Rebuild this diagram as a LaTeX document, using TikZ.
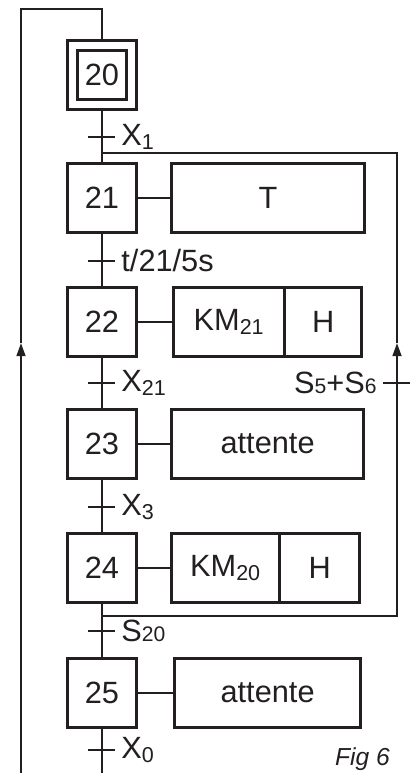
\documentclass[tikz,border=0pt]{standalone}
\usepackage{fontspec}
\setmainfont{Liberation Sans}
\usetikzlibrary{arrows.meta,positioning}
\definecolor{linecol}{RGB}{35,31,32}
\newcommand{\smdig}[1]{{\fontsize{12}{13}\selectfont #1}}

\begin{document}
\begin{tikzpicture}[x=0.02cm,y=-0.02cm,line width=1.3pt,color=linecol,
    >={Triangle[length=7.5pt,width=5pt]},
    stepbox/.style={draw,minimum width=1.38cm,minimum height=1.38cm,inner sep=0pt,
      font=\fontsize{17.5}{20}\selectfont},
    actbox/.style={draw,minimum height=1.38cm,inner sep=0pt,outer sep=0pt,
      font=\fontsize{17.5}{20}\selectfont},
    trlabel/.style={font=\fontsize{17.5}{20}\selectfont,inner sep=3pt}]
  \useasboundingbox (0,0) rectangle (410,773);

  % steps
  \node[stepbox] (s20) at (102,75) {};
  \node[stepbox,minimum width=0.98cm,minimum height=0.98cm] (s20i) at (s20) {20};
  \node[stepbox] (s21) at (102,198) {21};
  \node[stepbox] (s22) at (102,322) {22};
  \node[stepbox] (s23) at (102,444) {23};
  \node[stepbox] (s24) at (102,568) {24};
  \node[stepbox] (s25) at (102,693) {25};

  % actions
  \node[actbox,minimum width=3.86cm,right=0.68cm of s21] (a21) {T};
  \node[actbox,minimum width=2.22cm,right=0.72cm of s22] (a22) {KM\textsubscript{21}};
  \node[actbox,minimum width=1.54cm,right=0pt of a22] (h22) {H};
  \node[actbox,minimum width=3.84cm,right=0.68cm of s23] (a23) {attente};
  \node[actbox,minimum width=2.16cm,right=0.68cm of s24] (a24) {KM\textsubscript{20}};
  \node[actbox,minimum width=1.6cm,right=0pt of a24] (h24) {H};
  \node[actbox,minimum width=3.72cm,right=0.74cm of s25] (a25) {attente};
  \foreach \s in {21,...,25}
    \draw (s\s) -- (a\s);

  % links
  \draw (s20) -- (s21) -- (s22) -- (s23) -- (s24) -- (s25);
  \coordinate (sfoot) at (102,773);
  \draw (s25) -- (sfoot);

  % transitions
  \foreach \y/\lab in {137/X\textsubscript{1},261/{t/21/5s},383/X\textsubscript{21},
      507/X\textsubscript{3},631/S\smdig{20},750/X\textsubscript{0}}
    \draw (88,\y) -- (115,\y) node[trlabel,right] {\lab};

  % loop back to 21
  \coordinate (jtop) at (102,153);
  \coordinate (jbot) at (102,616);
  \coordinate (rarr) at (397,343);
  \draw[->] (jbot) -| (rarr);
  \draw (rarr) |- (jtop);
  \draw (383,383) -- (410,383) node[trlabel,pos=0,left] {S\smdig{5}+S\smdig{6}};

  % loop back to 20
  \coordinate (lfoot) at (21,773);
  \coordinate (larr) at (21,343);
  \coordinate (ltop) at (102,9);
  \draw[->] (lfoot) -- (larr);
  \draw (larr) |- (ltop) -- (s20);

  \node[font=\fontsize{14}{16}\selectfont\itshape,anchor=south west,inner sep=0pt]
    (fig) at (334,772) {Fig 6};
\end{tikzpicture}
\end{document}
